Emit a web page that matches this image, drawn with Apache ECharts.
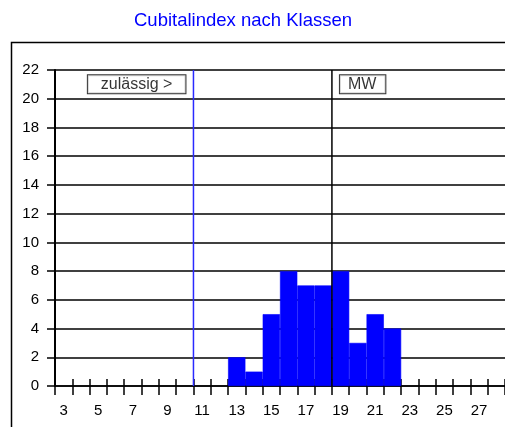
<!DOCTYPE html>
<html>
<head>
<meta charset="utf-8">
<script src="https://cdn.jsdelivr.net/npm/echarts@6/dist/echarts.min.js"></script>
<style>html,body{margin:0;padding:0;background:#fff;}#c{width:505px;height:427px;}</style>
</head>
<body>
<div id="c"></div>
<script>
const titleText = 'Cubitalindex nach Klassen';
const classes = ['3','4','5','6','7','8','9','10','11','12','13','14','15','16','17','18','19','20','21','22','23','24','25','26','27','28'];
const counts  = [0,0,0,0,0,0,0,0,0,0,2,1,5,8,7,7,8,3,5,4,0,0,0,0,0,0];
const yMin = 0, yMax = 22, yStep = 2;
const limitPos = 10.5;   // boundary "zulässig >"
const meanPos = 18.5;    // MW
const limitLabel = 'zulässig >';
const meanLabel = 'MW';
const labelY = 21;

const font = 'Liberation Sans, Arial, sans-serif';
const barData = counts.map(v => v > 0 ? {value: v, itemStyle: {borderColor: '#0000ff', borderWidth: 0.6}} : v);
const chart = echarts.init(document.getElementById('c'), null, {renderer:'canvas'});
chart.setOption({
  animation: false,
  backgroundColor: '#fff',
  title: {
    text: titleText, left: 129, top: 6,
    textStyle: {color:'#0000ff', fontSize: 18.5, fontWeight: 'normal', fontFamily: font}
  },
  graphic: [{
    type: 'rect', left: 9, top: 40, z: -10, silent: true,
    shape: {width: 700, height: 600},
    style: {fill: 'none', stroke: '#000', lineWidth: 1.5}
  }],
  grid: {left: 55, top: 70, right: -3, bottom: 41, containLabel: false},
  xAxis: [
    {
      type: 'category', data: classes, position: 'bottom', z: 1,
      axisLine: {show: true, lineStyle: {color:'#000', width: 1.5}},
      axisTick: {show: true, interval: 0, length: 9, lineStyle: {color:'#000', width: 1.5}},
      axisLabel: {interval: 1, margin: 17, fontSize: 15, color: '#000', fontFamily: font},
      splitLine: {show: false}
    },
    {
      type: 'category', data: classes, position: 'bottom', z: 1,
      axisLine: {show: false},
      axisTick: {show: true, inside: true, interval: 0, length: 7, lineStyle: {color:'#000', width: 1.5}},
      axisLabel: {show: false},
      splitLine: {show: false}
    },
    {
      type: 'value', min: 2.5, max: 28.5, show: false, position: 'top'
    }
  ],
  yAxis: {
    type: 'value', min: yMin, max: yMax, interval: yStep, z: 0,
    axisLine: {show: true, lineStyle: {color:'#000', width: 2}},
    axisTick: {show: true, length: 8, lineStyle: {color:'#000', width: 1.5}},
    axisLabel: {margin: 16, fontSize: 15, color: '#000', fontFamily: font},
    splitLine: {show: true, lineStyle: {color:'#000', width: 1.5}}
  },
  series: [
    {
      type: 'bar', data: barData, xAxisIndex: 0, barCategoryGap: '0%', z: 10,
      itemStyle: {color: '#0000ff', borderWidth: 0}, silent: true
    },
    {
      type: 'line', xAxisIndex: 2, data: [[limitPos, yMin], [limitPos, yMax]],
      symbol: 'none', lineStyle: {color: '#2a2aff', width: 1.5}, silent: true, z: 12
    },
    {
      type: 'line', xAxisIndex: 2, data: [[meanPos, yMin], [meanPos, yMax]],
      symbol: 'none', lineStyle: {color: '#000', width: 1.5}, silent: true, z: 12
    },
    {
      type: 'scatter', xAxisIndex: 2, symbolSize: 0, silent: true, z: 13,
      data: [[limitPos, labelY]],
      label: {
        show: true, formatter: limitLabel, position: 'left', distance: 8,
        fontSize: 16, color: '#000', fontFamily: font,
        borderColor: '#000', borderWidth: 1, padding: [1, 13, 1, 13], backgroundColor: '#fff'
      }
    },
    {
      type: 'scatter', xAxisIndex: 2, symbolSize: 0, silent: true, z: 13,
      data: [[meanPos, labelY]],
      label: {
        show: true, formatter: meanLabel, position: 'right', distance: 8,
        fontSize: 16, color: '#000', fontFamily: font,
        borderColor: '#000', borderWidth: 1, padding: [1, 9, 1, 8], backgroundColor: '#fff'
      }
    }
  ]
});
</script>
</body>
</html>
